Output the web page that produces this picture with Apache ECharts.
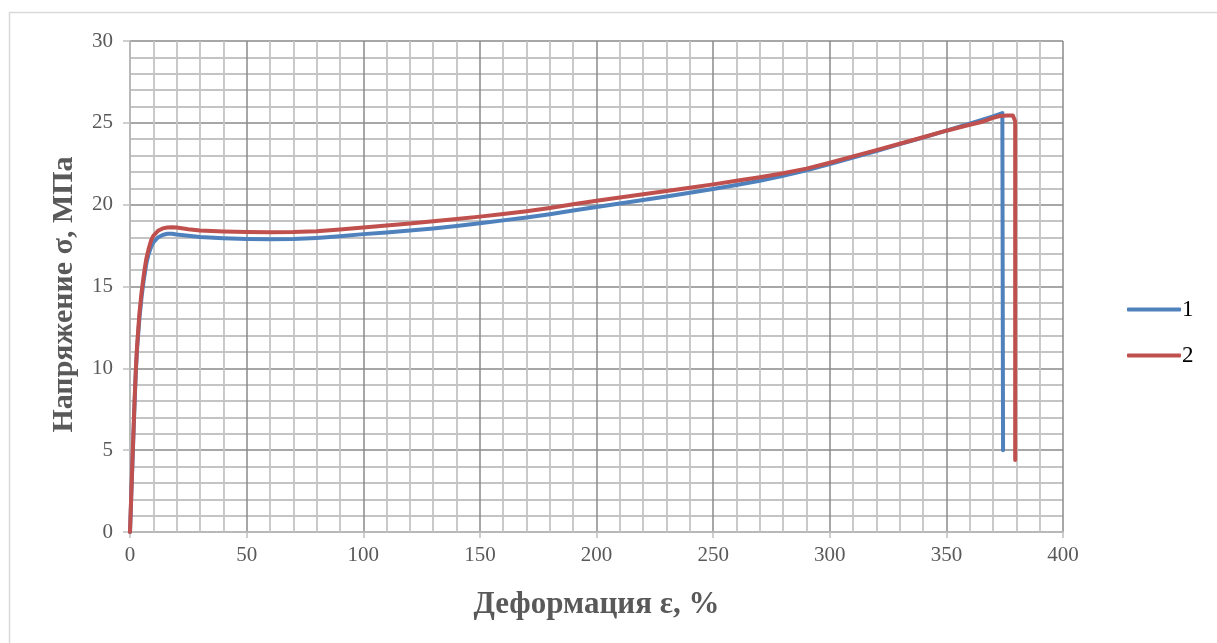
<!DOCTYPE html>
<html>
<head>
<meta charset="utf-8">
<script src="https://cdn.jsdelivr.net/npm/echarts@6/dist/echarts.min.js"></script>
<style>
html,body{margin:0;padding:0;background:#fff;}
#chart{width:1217px;height:643px;}
</style>
</head>
<body>
<div id="chart"></div>
<script>
// Series 1 (blue)
var blueX = [0,0.5,1,1.5,2,2.5,3,4,5,6,7,8,9,10,12,14,16,18,20,25,30,40,50,60,70,80,90,100,110,120,130,140,150,160,170,180,190,200,210,220,230,240,250,260,270,280,290,300,310,320,330,340,350,360,370,374,374.3];
var blueY = [0,2.0,4.0,6.0,8.0,9.8,11.1,13.0,14.4,15.5,16.4,17.0,17.4,17.7,18.0,18.15,18.22,18.22,18.18,18.1,18.02,17.95,17.9,17.88,17.9,17.97,18.07,18.2,18.3,18.42,18.55,18.7,18.86,19.04,19.22,19.42,19.64,19.86,20.07,20.28,20.5,20.73,20.96,21.2,21.46,21.76,22.1,22.48,22.88,23.28,23.7,24.1,24.52,24.95,25.4,25.6,5.0];
// Series 2 (red)
var redX = [0,0.5,1,1.5,2,2.5,3,4,5,6,7,8,9,10,12,14,16,18,20,25,30,40,50,60,70,80,90,100,110,120,130,140,150,160,170,180,190,200,210,220,230,240,250,260,270,280,290,300,310,320,330,340,350,360,365,370,373,376,378.5,379.2,379.5,379.5];
var redY = [0,2.1,4.2,6.2,8.2,9.9,11.3,13.3,14.7,15.8,16.7,17.3,17.8,18.1,18.4,18.55,18.6,18.62,18.6,18.5,18.42,18.36,18.33,18.32,18.33,18.38,18.48,18.6,18.72,18.85,18.98,19.12,19.27,19.43,19.6,19.8,20.02,20.24,20.44,20.63,20.83,21.03,21.24,21.46,21.68,21.92,22.2,22.56,22.95,23.33,23.72,24.12,24.52,24.88,25.05,25.3,25.42,25.45,25.45,25.38,25.1,4.4];
var seriesNames = ['1','2'];
var xTicks = {min:0, max:400, interval:50};
var yTicks = {min:0, max:30, interval:5};

function pairs(xs, ys){ var out=[]; for(var i=0;i<xs.length;i++) out.push([xs[i], ys[i]]); return out; }

var chart = echarts.init(document.getElementById('chart'));
var serif = '"Liberation Serif","Times New Roman",serif';
chart.setOption({
  animation:false,
  backgroundColor:'#fff',
  graphic:[{type:'rect', left:7, top:10, shape:{width:1230, height:660}, style:{fill:'none', stroke:'#d9d9d9', lineWidth:1.5}, silent:true}],
  grid:{left:130, right:154, top:41, bottom:111, containLabel:false},
  legend:{
    orient:'vertical', left:1122, top:293, itemGap:23, itemWidth:54, itemHeight:4,
    icon:'roundRect',
    textStyle:{fontFamily:serif, fontSize:23, color:'#000', padding:[0,0,0,-4]},
    data:seriesNames
  },
  xAxis:{
    type:'value', min:xTicks.min, max:xTicks.max, interval:xTicks.interval,
    name:'Деформация ε, %', nameLocation:'middle', nameGap:57,
    nameTextStyle:{fontFamily:serif, fontSize:31, fontWeight:'bold', color:'#595959'},
    axisLine:{show:true, lineStyle:{color:'#bfbfbf', width:1.5}},
    axisTick:{show:true, length:6, lineStyle:{color:'#bfbfbf', width:1.5}},
    axisLabel:{fontFamily:serif, fontSize:21, color:'#595959', margin:13},
    splitLine:{show:true, lineStyle:{color:'#8a8a8a', width:1.5}},
    minorTick:{show:false, splitNumber:5},
    minorSplitLine:{show:true, lineStyle:{color:'#c4c4c4', width:1.8}}
  },
  yAxis:{
    type:'value', min:yTicks.min, max:yTicks.max, interval:yTicks.interval,
    name:'Напряжение σ, МПа', nameLocation:'middle', nameGap:51,
    nameTextStyle:{fontFamily:serif, fontSize:30, fontWeight:'bold', color:'#595959', padding:[0,16,0,0]},
    axisLine:{show:true, lineStyle:{color:'#bfbfbf', width:1.5}},
    axisTick:{show:true, length:7, lineStyle:{color:'#bfbfbf', width:1.5}},
    axisLabel:{fontFamily:serif, fontSize:21, color:'#595959', margin:17},
    splitLine:{show:true, lineStyle:{color:'#8a8a8a', width:1.5}},
    minorTick:{show:false, splitNumber:5},
    minorSplitLine:{show:true, lineStyle:{color:'#c4c4c4', width:1.8}}
  },
  series:[
    {name:seriesNames[0], type:'line', data:pairs(blueX, blueY), symbol:'none', smooth:false,
     lineStyle:{color:'#4f81bd', width:4, cap:'round', join:'round'}, itemStyle:{color:'#4f81bd'}},
    {name:seriesNames[1], type:'line', data:pairs(redX, redY), symbol:'none', smooth:false,
     lineStyle:{color:'#c0504d', width:4, cap:'round', join:'round'}, itemStyle:{color:'#c0504d'}}
  ]
});
</script>
</body>
</html>
